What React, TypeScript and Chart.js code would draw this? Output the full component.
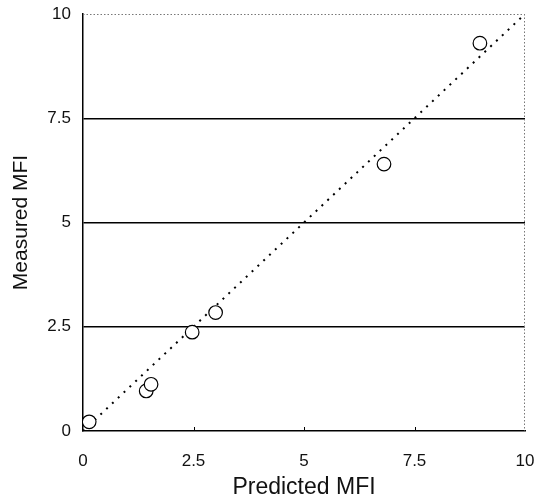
import React, { useEffect, useRef } from "react";
import { Chart, registerables } from "chart.js";

Chart.register(...registerables);

// ---- data ----
const predicted = [0.14, 1.43, 1.54, 2.47, 3.0, 6.81, 8.98];
const measured = [0.22, 0.96, 1.12, 2.37, 2.84, 6.4, 9.3];
const fitX = [0, 10];
const fitY = [0, 10];
const xTicks = [0, 2.5, 5, 7.5, 10];
const yTicks = [0, 2.5, 5, 7.5, 10];
const innerXTicks = [2.5, 5, 7.5];
const xTitle = "Predicted MFI";
const yTitle = "Measured MFI";

const FONT = "'Liberation Sans', Arial, Helvetica, sans-serif";

const framePlugin = {
  id: "frame",
  beforeDatasetsDraw(chart: any) {
    const { ctx, chartArea: a, scales } = chart;
    ctx.save();
    ctx.strokeStyle = "#777";
    ctx.lineWidth = 1;
    ctx.setLineDash([1.5, 2]);
    ctx.beginPath();
    ctx.moveTo(a.left, a.top + 0.5);
    ctx.lineTo(a.right, a.top + 0.5);
    ctx.moveTo(a.right - 0.5, a.top);
    ctx.lineTo(a.right - 0.5, a.bottom);
    ctx.stroke();
    ctx.setLineDash([]);
    ctx.strokeStyle = "#000";
    ctx.lineWidth = 1;
    ctx.beginPath();
    for (const v of innerXTicks) {
      const px = Math.round(scales.x.getPixelForValue(v)) + 0.5;
      ctx.moveTo(px, a.bottom);
      ctx.lineTo(px, a.bottom - 4);
    }
    ctx.stroke();
    ctx.restore();
  },
};

export default function App() {
  const ref = useRef<HTMLCanvasElement | null>(null);
  useEffect(() => {
    if (!ref.current) return;
    const chart = new Chart(ref.current, {
      type: "scatter",
      data: {
        datasets: [
          {
            type: "scatter",
            data: predicted.map((x, i) => ({ x, y: measured[i] })),
            pointRadius: 6.8,
            pointBorderWidth: 1.2,
            pointBackgroundColor: "#fff",
            pointBorderColor: "#000",
            order: 0,
          },
          {
            type: "line",
            data: fitX.map((x, i) => ({ x, y: fitY[i] })),
            showLine: true,
            pointRadius: 0,
            borderColor: "#000",
            borderWidth: 2,
            borderDash: [2, 6],
            fill: false,
            order: 1,
          } as any,
        ],
      },
      options: {
        animation: false,
        responsive: false,
        layout: { padding: { top: 14, right: 20, left: 0, bottom: 0 } },
        plugins: { legend: { display: false }, tooltip: { enabled: false } },
        scales: {
          x: {
            type: "linear",
            min: 0,
            max: 10,
            afterBuildTicks: (s: any) => {
              s.ticks = xTicks.map((v) => ({ value: v }));
            },
            afterFit: (s: any) => {
              s.height = 70;
              s.paddingLeft = 0;
              s.paddingRight = 0;
            },
            grid: { display: false, drawTicks: false },
            border: { display: true, color: "#000", width: 1.5 },
            ticks: {
              padding: 20,
              color: "#111",
              font: { family: FONT, size: 17 },
              maxRotation: 0,
            },
            title: {
              display: true,
              text: xTitle,
              color: "#111",
              font: { family: FONT, size: 23 },
              padding: { top: 0, bottom: 0 },
            },
          },
          y: {
            type: "linear",
            min: 0,
            max: 10,
            afterBuildTicks: (s: any) => {
              s.ticks = yTicks.map((v) => ({ value: v }));
            },
            afterFit: (s: any) => {
              s.width = 83;
              s.paddingTop = 0;
              s.paddingBottom = 0;
            },
            grid: {
              drawTicks: false,
              lineWidth: 1.5,
              color: (c: any) =>
                c.tick && (c.tick.value === 0 || c.tick.value === 10)
                  ? "rgba(0,0,0,0)"
                  : "#000",
            },
            border: { display: true, color: "#000", width: 1.5 },
            ticks: {
              padding: 12,
              color: "#111",
              font: { family: FONT, size: 17 },
            },
            title: {
              display: true,
              text: yTitle,
              color: "#111",
              font: { family: FONT, size: 21 },
              padding: { top: 9, bottom: 0 },
            },
          },
        },
      },
      plugins: [framePlugin],
    });
    return () => chart.destroy();
  }, []);
  return (
    <div style={{ position: "absolute", left: 0, top: 0, width: 545, height: 501, background: "#fff" }}>
      <canvas ref={ref} width={545} height={501} />
    </div>
  );
}
